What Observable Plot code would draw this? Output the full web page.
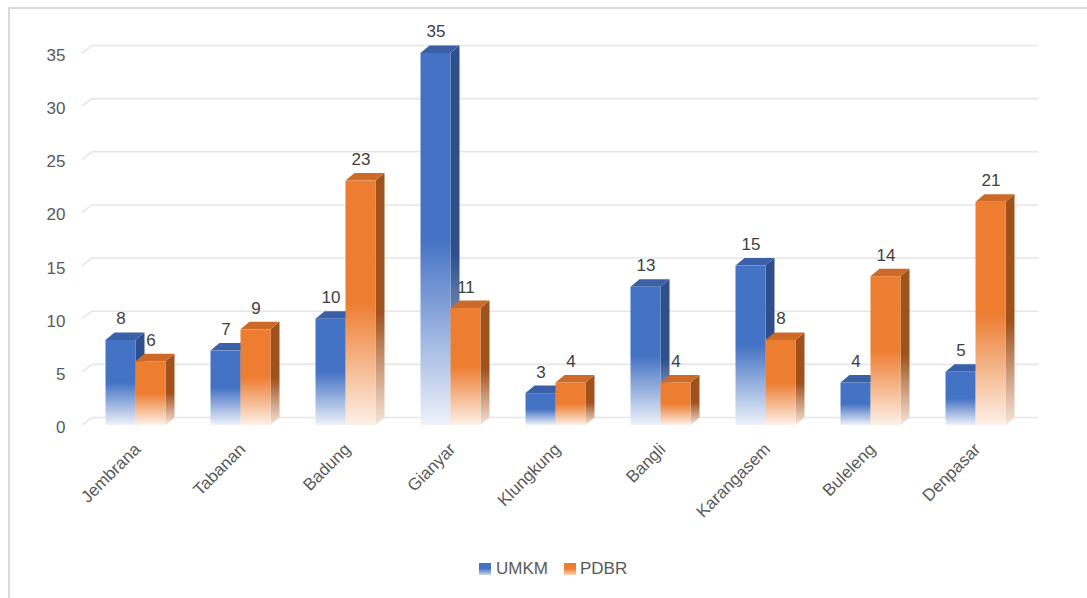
<!DOCTYPE html>
<html>
<head>
<meta charset="utf-8">
<script src="https://cdn.jsdelivr.net/npm/d3@7"></script>
<script src="https://cdn.jsdelivr.net/npm/@observablehq/plot@0.6"></script>
<style>
  body { margin: 0; background: #fff; font-family: "Liberation Sans", Arial, sans-serif; }
  #wrap { position: relative; width: 1087px; height: 598px; overflow: hidden; background: #fff; }
  #frame { position: absolute; left: 8px; top: 7px; right: -10px; bottom: -10px;
           border-top: 2px solid #d9d9d9; border-left: 2px solid #d9d9d9; }
  #chart { position: absolute; left: 0; top: 0; }
  #chart svg { overflow: visible; }
  #legend { position: absolute; left: 479px; top: 559px; display: flex; align-items: center;
            font-size: 17px; line-height: 20px; color: #595959; }
  .sw { width: 12px; height: 12px; display: inline-block; }
</style>
</head>
<body>
<svg width="0" height="0" style="position:absolute">
  <defs>
    <linearGradient id="gU" x1="0" y1="0" x2="0" y2="1">
      <stop offset="0" stop-color="#4472C4"/>
      <stop offset="0.5" stop-color="#4472C4"/>
      <stop offset="1" stop-color="#eef2fa"/>
    </linearGradient>
    <linearGradient id="gP" x1="0" y1="0" x2="0" y2="1">
      <stop offset="0" stop-color="#ED7D31"/>
      <stop offset="0.5" stop-color="#ED7D31"/>
      <stop offset="1" stop-color="#fdf1e8"/>
    </linearGradient>
    <linearGradient id="gUs" x1="0" y1="0" x2="0" y2="1">
      <stop offset="0" stop-color="#2E4F8C"/>
      <stop offset="0.55" stop-color="#2E4F8C"/>
      <stop offset="1" stop-color="#e2e7f1"/>
    </linearGradient>
    <linearGradient id="gPs" x1="0" y1="0" x2="0" y2="1">
      <stop offset="0" stop-color="#A0521D"/>
      <stop offset="0.55" stop-color="#A0521D"/>
      <stop offset="1" stop-color="#f6e4d8"/>
    </linearGradient>
  </defs>
</svg>
<div id="wrap">
  <div id="frame"></div>
  <div id="chart"></div>
  <div id="legend">
    <span class="sw" style="background:linear-gradient(#4472C4 45%, #c9d6ef 100%)"></span>
    <span style="margin-left:5px">UMKM</span>
    <span class="sw" style="margin-left:16px;background:linear-gradient(#ED7D31 45%, #f9d2b6 100%)"></span>
    <span style="margin-left:4px">PDBR</span>
  </div>
</div>
<script>
// ---- data ----
const regions = ["Jembrana", "Tabanan", "Badung", "Gianyar", "Klungkung", "Bangli", "Karangasem", "Buleleng", "Denpasar"];
const umkm = [8, 7, 10, 35, 3, 13, 15, 4, 5];
const pdbr = [6, 9, 23, 11, 4, 4, 8, 14, 21];
const yTicks = [0, 5, 10, 15, 20, 25, 30, 35];

const rowsU = regions.map((r, i) => ({region: r, series: "UMKM", value: umkm[i]}));
const rowsP = regions.map((r, i) => ({region: r, series: "PDBR", value: pdbr[i]}));

// 3D look
const DX = 9, DY = 7.5;
const BAR_W = 30;

function bandW(scales, dims) {
  const x = scales.x;
  if (x && typeof x.bandwidth === "function") return x.bandwidth();
  return (dims.width - dims.marginLeft - dims.marginRight) / regions.length;
}

// side + top faces of the pseudo-3D boxes
function depthFaces(rows, side, offsetInBand, sideFill, topFill) {
  return (index, scales, values, dims) => {
    const bw = bandW(scales, dims);
    const g = d3.create("svg:g");
    for (const d of rows) {
      const xl = scales.x(d.region) + offsetInBand(bw);
      const xr = xl + BAR_W;
      const yt = scales.y(d.value);
      const yb = scales.y(0);
      g.append("path")
        .attr("d", `M${xr},${yt}L${xr + DX},${yt - DY}L${xr + DX},${yb - DY}L${xr},${yb}Z`)
        .attr("fill", sideFill);
      g.append("path")
        .attr("d", `M${xl},${yt}L${xl + DX},${yt - DY}L${xr + DX},${yt - DY}L${xr},${yt}Z`)
        .attr("fill", topFill);
    }
    return g.node();
  };
}

// back-wall gridlines with the floor bevel at the left
function grid(index, scales, values, dims) {
  const x0 = dims.marginLeft, x1 = dims.width - dims.marginRight;
  const g = d3.create("svg:g").attr("fill", "none").attr("stroke", "#e6e6e6").attr("stroke-width", 1.6);
  for (const t of yTicks) {
    const y = scales.y(t);
    g.append("path").attr("d", `M${x0 - 1},${y}L${x0 + DX},${y - DY}L${x1 + DX + 1},${y - DY}`);
  }
  return g.node();
}

const chart = Plot.plot({
  width: 1087,
  height: 530,
  marginLeft: 83,
  marginRight: 59,
  marginTop: 53,
  marginBottom: 105,
  style: {fontFamily: "'Liberation Sans', Arial, sans-serif", fontSize: "17px", color: "#595959", background: "transparent", overflow: "visible"},
  x: {type: "band", domain: regions, padding: 0, axis: null},
  y: {domain: [0, 35], axis: null},
  marks: [
    grid,
    Plot.axisY(yTicks, {tickSize: 0, tickPadding: 18, dy: 2, fontSize: 17, label: null}),
    // UMKM boxes
    depthFaces(rowsU, "U", bw => bw / 2 - BAR_W, "url(#gUs)", "#3A61A7"),
    Plot.barY(rowsU, {x: "region", y: "value", fill: "url(#gU)", insetLeft: 22.5, insetRight: 52.5}),
    // PDBR boxes
    depthFaces(rowsP, "P", bw => bw / 2, "url(#gPs)", "#CD6A27"),
    Plot.barY(rowsP, {x: "region", y: "value", fill: "url(#gP)", insetLeft: 52.5, insetRight: 22.5}),
    // value labels
    Plot.text(rowsU, {x: "region", y: "value", text: d => String(d.value), dx: -15, dy: -21.5, fontSize: 17, fill: "#404040"}),
    Plot.text(rowsP, {x: "region", y: "value", text: d => String(d.value), dx: 15, dy: -21.5, fontSize: 17, fill: "#404040"}),
    // category labels
    Plot.text(regions, {x: d => d, y: () => 0, text: d => d, rotate: -45, textAnchor: "end", dx: 1.5, dy: 21, fontSize: 17, fill: "#595959"})
  ]
});
document.getElementById("chart").appendChild(chart);
</script>
</body>
</html>
